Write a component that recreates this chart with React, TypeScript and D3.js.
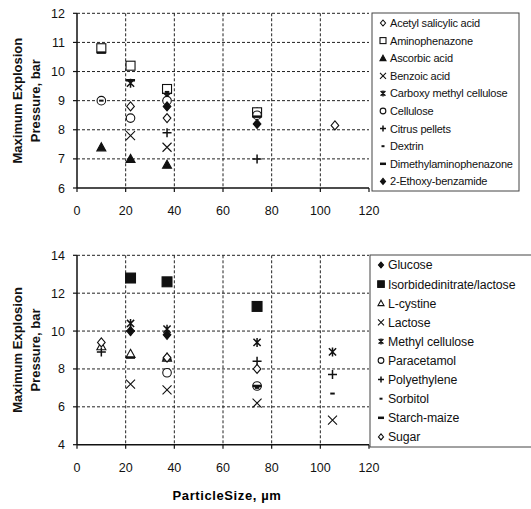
import React from 'react'
import * as d3 from 'd3'

// particle sizes (µm) for the measured fractions
const xTicks = [0, 20, 40, 60, 80, 100, 120]
const topYTicks = [6, 7, 8, 9, 10, 11, 12]
const bottomYTicks = [4, 6, 8, 10, 12, 14]

// top panel series
const acetylSalicylic = [[22, 8.8], [37, 8.4], [74, 8.6], [106, 8.15]]
const aminophenazone = [[10, 10.8], [22, 10.2], [37, 9.4], [74, 8.6]]
const ascorbicAcid = [[10, 7.4], [22, 7.0], [37, 6.8]]
const benzoicAcid = [[22, 7.8], [37, 7.4]]
const carboxyMethylCellulose = [[22, 9.6], [37, 9.15]]
const cellulose = [[10, 9.0], [22, 8.4], [37, 9.0], [74, 8.5]]
const citrusPellets = [[37, 7.9], [74, 7.0]]
const dextrin = [[10, 9.0], [37, 9.3]]
const dimethylaminophenazone = [[10, 10.65], [22, 9.7], [74, 8.45]]
const ethoxyBenzamide = [[37, 8.8], [74, 8.2]]

// bottom panel series
const glucose = [[22, 10.0], [37, 9.8]]
const isorbide = [[22, 12.8], [37, 12.6], [74, 11.3]]
const lCystine = [[10, 9.2], [22, 8.8], [37, 8.6]]
const lactose = [[22, 7.2], [37, 6.9], [74, 6.2], [105, 5.3]]
const methylCellulose = [[22, 10.4], [37, 10.1], [74, 9.4], [105, 8.9]]
const paracetamol = [[37, 7.8], [74, 7.1]]
const polyethylene = [[10, 8.9], [22, 10.0], [74, 8.4], [105, 7.7]]
const sorbitol = [[74, 7.0], [105, 6.7]]
const starchMaize = [[22, 8.6], [37, 8.5], [74, 7.1]]
const sugar = [[10, 9.4], [37, 8.6], [74, 8.0]]

const topSeries = [
  { name: 'Acetyl salicylic acid', marker: 'diamondOpen', data: acetylSalicylic },
  { name: 'Aminophenazone', marker: 'squareOpen', data: aminophenazone },
  { name: 'Ascorbic acid', marker: 'triangleFilled', data: ascorbicAcid },
  { name: 'Benzoic acid', marker: 'x', data: benzoicAcid },
  { name: 'Carboxy methyl cellulose', marker: 'asterisk', data: carboxyMethylCellulose },
  { name: 'Cellulose', marker: 'circle', data: cellulose },
  { name: 'Citrus pellets', marker: 'plus', data: citrusPellets },
  { name: 'Dextrin', marker: 'dashSmall', data: dextrin },
  { name: 'Dimethylaminophenazone', marker: 'dash', data: dimethylaminophenazone },
  { name: '2-Ethoxy-benzamide', marker: 'diamondFilled', data: ethoxyBenzamide },
]

const bottomSeries = [
  { name: 'Glucose', marker: 'diamondFilled', data: glucose },
  { name: 'Isorbidedinitrate/lactose', marker: 'squareFilled', data: isorbide },
  { name: 'L-cystine', marker: 'triangleOpen', data: lCystine },
  { name: 'Lactose', marker: 'x', data: lactose },
  { name: 'Methyl cellulose', marker: 'asterisk', data: methylCellulose },
  { name: 'Paracetamol', marker: 'circle', data: paracetamol },
  { name: 'Polyethylene', marker: 'plus', data: polyethylene },
  { name: 'Sorbitol', marker: 'dashSmall', data: sorbitol },
  { name: 'Starch-maize', marker: 'dash', data: starchMaize },
  { name: 'Sugar', marker: 'diamondOpen', data: sugar },
]

const font = '"Liberation Sans", Arial, sans-serif'

const Marker = ({ type, x, y, s }) => {
  const k = s
  const st = { stroke: '#111', strokeWidth: 1.1 }
  switch (type) {
    case 'diamondOpen':
    case 'diamondFilled':
      return <path d={`M${x},${y - k}L${x + k * 0.85},${y}L${x},${y + k}L${x - k * 0.85},${y}Z`}
        fill={type === 'diamondFilled' ? '#111' : '#fff'} {...st} />
    case 'squareOpen':
      return <rect x={x - k} y={y - k} width={k * 2} height={k * 2} fill="#fff" {...st} />
    case 'squareFilled':
      return <rect x={x - k * 1.1} y={y - k * 1.1} width={k * 2.2} height={k * 2.2} fill="#111" {...st} />
    case 'triangleFilled':
    case 'triangleOpen':
      return <path d={`M${x},${y - k}L${x + k},${y + k * 0.8}L${x - k},${y + k * 0.8}Z`}
        fill={type === 'triangleFilled' ? '#111' : '#fff'} {...st} />
    case 'circle':
      return <circle cx={x} cy={y} r={k * 0.95} fill="#fff" {...st} />
    case 'x':
      return <path d={`M${x - k},${y - k}L${x + k},${y + k}M${x - k},${y + k}L${x + k},${y - k}`} fill="none" {...st} />
    case 'asterisk':
      return <path d={`M${x - k * 0.8},${y - k * 0.8}L${x + k * 0.8},${y + k * 0.8}M${x - k * 0.8},${y + k * 0.8}L${x + k * 0.8},${y - k * 0.8}M${x},${y - k}L${x},${y + k}`}
        fill="none" stroke="#111" strokeWidth={1.5} />
    case 'plus':
      return <path d={`M${x - k},${y}L${x + k},${y}M${x},${y - k}L${x},${y + k}`} fill="none" stroke="#111" strokeWidth={1.5} />
    case 'dashSmall':
      return <path d={`M${x - k * 0.5},${y}L${x + k * 0.5},${y}`} stroke="#111" strokeWidth={2} />
    case 'dash':
      return <path d={`M${x - k},${y}L${x + k},${y}`} stroke="#111" strokeWidth={2.5} />
    default:
      return null
  }
}

const Panel = ({ top, bottom, yDomain, yTicks, series, legend }) => {
  const x = d3.scaleLinear().domain([0, 120]).range([77, 369])
  const y = d3.scaleLinear().domain(yDomain).range([bottom, top])
  return (
    <g fontFamily={font} fill="#111">
      {/* grid */}
      {yTicks.filter(t => t !== yDomain[0]).map(t => (
        <line key={'h' + t} x1={x(0)} x2={x(120)} y1={y(t)} y2={y(t)} stroke="#222" strokeDasharray="3,2" strokeWidth={1} />
      ))}
      {xTicks.filter(t => t !== 0 && t !== 120).map(t => (
        <line key={'v' + t} x1={x(t)} x2={x(t)} y1={y(yDomain[1])} y2={y(yDomain[0])} stroke="#222" strokeDasharray="3,2" strokeWidth={1} />
      ))}
      {/* axes */}
      <line x1={x(0)} x2={x(0)} y1={y(yDomain[1])} y2={y(yDomain[0])} stroke="#111" strokeWidth={1.5} />
      <line x1={x(0)} x2={x(120)} y1={y(yDomain[0])} y2={y(yDomain[0])} stroke="#111" strokeWidth={1.5} />
      {yTicks.map(t => (
        <g key={'yt' + t}>
          <line x1={x(0) - 4} x2={x(0)} y1={y(t)} y2={y(t)} stroke="#111" strokeWidth={1.2} />
          <text x={x(0) - 12} y={y(t) + 4.5} textAnchor="end" fontSize={12.5}>{t}</text>
        </g>
      ))}
      {xTicks.map(t => (
        <g key={'xt' + t}>
          <line x1={x(t)} x2={x(t)} y1={y(yDomain[0])} y2={y(yDomain[0]) + 4} stroke="#111" strokeWidth={1.2} />
          <text x={x(t)} y={y(yDomain[0]) + 27} textAnchor="middle" fontSize={12.5}>{t}</text>
        </g>
      ))}
      {/* y title */}
      <text transform={`translate(22,${(top + bottom) / 2}) rotate(-90)`} textAnchor="middle" fontSize={13} fontWeight="bold">Maximum Explosion</text>
      <text transform={`translate(40,${(top + bottom) / 2}) rotate(-90)`} textAnchor="middle" fontSize={13} fontWeight="bold">Pressure, bar</text>
      {/* points */}
      {series.map(s => s.data.map((d, i) => (
        <Marker key={s.name + i} type={s.marker} x={x(d[0])} y={y(d[1])} s={4.5} />
      )))}
      {/* legend */}
      <rect x={legend.x} y={legend.y} width={legend.w} height={legend.h} fill="#fff" stroke="#444" strokeWidth={1} />
      {series.map((s, i) => {
        const ly = legend.y + legend.first + i * legend.step
        return (
          <g key={'lg' + s.name}>
            <Marker type={s.marker} x={legend.x + 11} y={ly} s={3} />
            <text x={legend.x + 18} y={ly + legend.fs * 0.36} fontSize={legend.fs} letterSpacing={legend.ls}>{s.name}</text>
          </g>
        )
      })}
    </g>
  )
}

export default function App() {
  return (
    <svg width={531} height={509} style={{ display: 'block', position: 'absolute', left: 0, top: 0 }}>
      <rect width={531} height={509} fill="#fff" />
      <Panel top={13.3} bottom={188} yDomain={[6, 12]} yTicks={topYTicks} series={topSeries}
        legend={{ x: 372, y: 13, w: 147, h: 178, first: 10, step: 17.6, fs: 11, ls: -0.2 }} />
      <Panel top={255.3} bottom={444.7} yDomain={[4, 14]} yTicks={bottomYTicks} series={bottomSeries}
        legend={{ x: 370, y: 255, w: 170, h: 192, first: 10, step: 19.1, fs: 12.3, ls: -0.1 }} />
      <text x={227} y={500} textAnchor="middle" fontFamily={font} fontSize={13} fontWeight="bold" letterSpacing={0.6}>ParticleSize, µm</text>
    </svg>
  )
}
